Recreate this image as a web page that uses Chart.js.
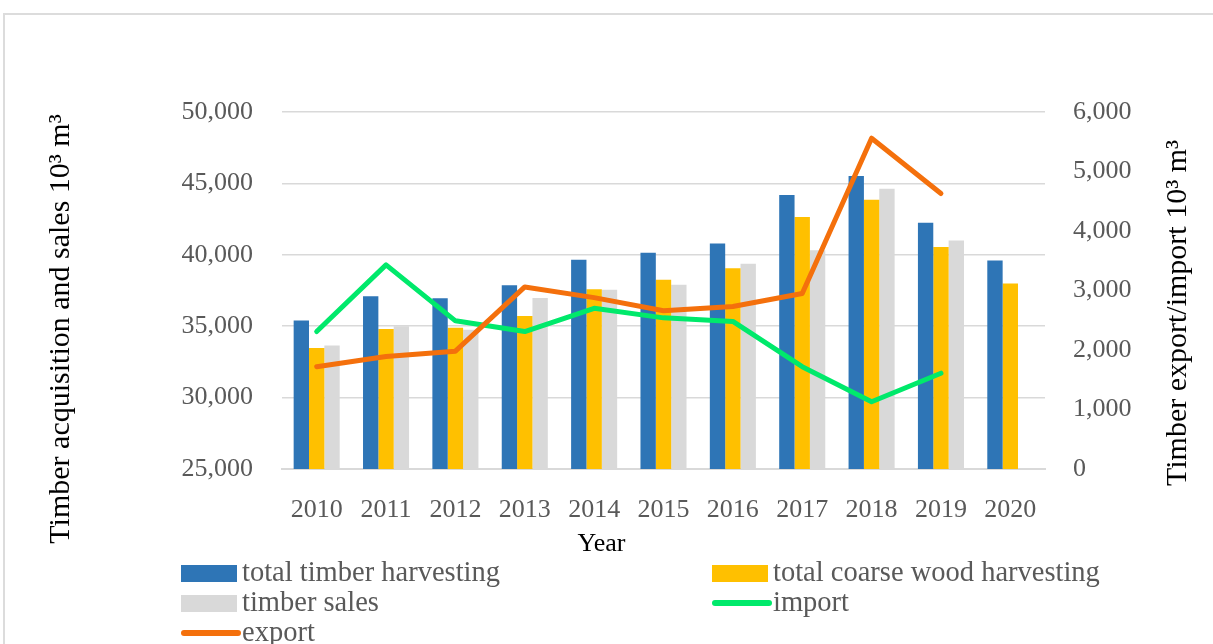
<!DOCTYPE html>
<html>
<head>
<meta charset="utf-8">
<script src="https://cdn.jsdelivr.net/npm/chart.js@4"></script>
<style>
  html, body { margin: 0; padding: 0; background: #fff; }
  #wrap { position: relative; width: 1213px; height: 644px; overflow: hidden; }
  #frame { position: absolute; left: 3px; top: 13px; width: 1300px; height: 700px;
           border-left: 2px solid #dcdcdc; border-top: 2px solid #dcdcdc; }
  #cv { position: absolute; left: 0; top: 0; }
</style>
</head>
<body>
<div id="wrap">
  <div id="frame"></div>
  <canvas id="cv" width="1213" height="644"></canvas>
</div>
<script>
// data
const years = ["2010", "2011", "2012", "2013", "2014", "2015", "2016", "2017", "2018", "2019", "2020"];
const totalHarvest = [35400, 37100, 36950, 37870, 39650, 40150, 40800, 44180, 45520, 42250, 39600];
const coarseHarvest = [33480, 34800, 34900, 35720, 37580, 38250, 39050, 42640, 43850, 40550, 37990];
const timberSales = [33650, 35000, 34750, 36980, 37560, 37900, 39370, 40320, 44620, 41000, null];
const importVals = [2310, 3430, 2490, 2310, 2700, 2540, 2480, 1720, 1130, 1610, null];
const exportVals = [1720, 1890, 1980, 3060, 2880, 2660, 2730, 2950, 5560, 4630, null];

const leftTitle = "Timber acquisition and sales 10\u00b3 m\u00b3";
const rightTitle = "Timber export/import 10\u00b3 m\u00b3";
const xTitle = "Year";

const FONT = "'Liberation Serif', 'Times New Roman', serif";
const tickColor = "#595959";

// axis titles + 2 column legend drawn on the canvas
const decor = {
  id: "decor",
  afterDraw(chart) {
    const ctx = chart.ctx;
    const area = chart.chartArea;
    ctx.save();
    ctx.fillStyle = "#000";
    ctx.font = "30px " + FONT;
    ctx.textAlign = "center";
    ctx.textBaseline = "middle";

    ctx.save();
    ctx.translate(61, 329);
    ctx.rotate(-Math.PI / 2);
    ctx.fillText(leftTitle, 0, 0);
    ctx.restore();

    ctx.save();
    ctx.translate(1178, 313);
    ctx.rotate(-Math.PI / 2);
    ctx.fillText(rightTitle, 0, 0);
    ctx.restore();

    ctx.font = "26px " + FONT;
    ctx.fillText(xTitle, (area.left + area.right) / 2 - 62, 544);

    // legend
    const slots = [[181, 573], [712, 573], [181, 603], [712, 603], [181, 633]];
    ctx.font = "28.5px " + FONT;
    ctx.textAlign = "left";
    chart.data.datasets.forEach((ds, i) => {
      const [x, y] = slots[i];
      if (ds.type === "line") {
        ctx.strokeStyle = ds.borderColor;
        ctx.lineWidth = 6;
        ctx.lineCap = "round";
        ctx.beginPath();
        ctx.moveTo(x + 3, y);
        ctx.lineTo(x + 57, y);
        ctx.stroke();
      } else {
        ctx.fillStyle = ds.backgroundColor;
        ctx.fillRect(x, y - 8, 56, 17);
      }
      ctx.fillStyle = tickColor;
      ctx.fillText(ds.label, x + 61, y + 1);
    });
    ctx.restore();
  }
};

const ctx = document.getElementById("cv");
const chart = new Chart(ctx, {
  data: {
    labels: years,
    datasets: [
      { type: "bar", label: "total timber harvesting", data: totalHarvest, backgroundColor: "#2E75B6", yAxisID: "y", order: 3 },
      { type: "bar", label: "total coarse wood harvesting", data: coarseHarvest, backgroundColor: "#FFC000", yAxisID: "y", order: 3 },
      { type: "bar", label: "timber sales", data: timberSales, backgroundColor: "#D9D9D9", yAxisID: "y", order: 3 },
      { type: "line", label: "import", data: importVals, borderColor: "#00E96B", backgroundColor: "#00E96B",
        yAxisID: "y2", order: 2, borderWidth: 5, pointRadius: 0, tension: 0,
        borderCapStyle: "round", borderJoinStyle: "round" },
      { type: "line", label: "export", data: exportVals, borderColor: "#F4700C", backgroundColor: "#F4700C",
        yAxisID: "y2", order: 1, borderWidth: 5, pointRadius: 0, tension: 0,
        borderCapStyle: "round", borderJoinStyle: "round" }
    ]
  },
  options: {
    responsive: false,
    animation: false,
    devicePixelRatio: 1,
    layout: { padding: { top: 112, left: 0, right: 0, bottom: 0 } },
    datasets: { bar: { categoryPercentage: 0.664, barPercentage: 1.0, borderWidth: 0 } },
    plugins: { legend: { display: false }, tooltip: { enabled: false } },
    scales: {
      x: {
        grid: { display: false },
        border: { display: true, color: "#d9d9d9", width: 2 },
        ticks: { color: tickColor, font: { family: FONT, size: 26 }, padding: 18, maxRotation: 0 },
        afterFit(scale) { scale.height = 175; }
      },
      y: {
        position: "left",
        min: 25000, max: 50000,
        grid: { color: "#d9d9d9", lineWidth: 1.5, drawTicks: false },
        border: { display: false },
        ticks: { stepSize: 5000, color: tickColor, font: { family: FONT, size: 26 }, padding: 29,
                 callback: v => v.toLocaleString("en-US") },
        afterFit(scale) { scale.width = 282; }
      },
      y2: {
        position: "right",
        min: 0, max: 6000,
        grid: { display: false, drawTicks: false },
        border: { display: false },
        ticks: { stepSize: 1000, color: tickColor, font: { family: FONT, size: 26 }, padding: 28,
                 callback: v => v.toLocaleString("en-US") },
        afterFit(scale) { scale.width = 168; }
      }
    }
  },
  plugins: [decor]
});
</script>
</body>
</html>
